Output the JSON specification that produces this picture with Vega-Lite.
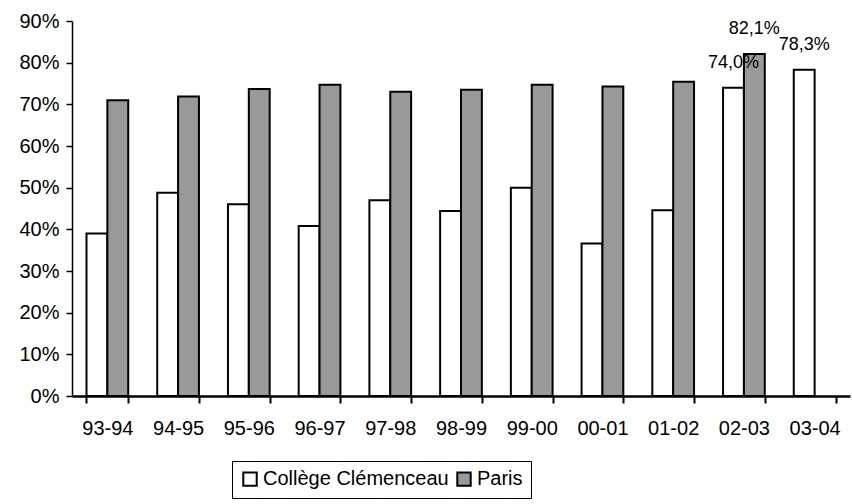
{
  "$schema": "https://vega.github.io/schema/vega-lite/v6.json",
  "autosize": "none",
  "width": 778,
  "height": 375,
  "padding": {"left": 72, "top": 21, "right": 2, "bottom": 108},
  "background": "white",
  "config": {
    "view": {"stroke": null},
    "font": "Liberation Sans",
    "axis": {"labelFont": "Liberation Sans", "labelColor": "black", "grid": false}
  },
  "data": {
    "values": [
      {"annee": "93-94", "serie": "Collège Clémenceau", "taux": 0.390},
      {"annee": "93-94", "serie": "Paris", "taux": 0.710},
      {"annee": "94-95", "serie": "Collège Clémenceau", "taux": 0.488},
      {"annee": "94-95", "serie": "Paris", "taux": 0.719},
      {"annee": "95-96", "serie": "Collège Clémenceau", "taux": 0.460},
      {"annee": "95-96", "serie": "Paris", "taux": 0.737},
      {"annee": "96-97", "serie": "Collège Clémenceau", "taux": 0.408},
      {"annee": "96-97", "serie": "Paris", "taux": 0.747},
      {"annee": "97-98", "serie": "Collège Clémenceau", "taux": 0.470},
      {"annee": "97-98", "serie": "Paris", "taux": 0.730},
      {"annee": "98-99", "serie": "Collège Clémenceau", "taux": 0.444},
      {"annee": "98-99", "serie": "Paris", "taux": 0.735},
      {"annee": "99-00", "serie": "Collège Clémenceau", "taux": 0.500},
      {"annee": "99-00", "serie": "Paris", "taux": 0.747},
      {"annee": "00-01", "serie": "Collège Clémenceau", "taux": 0.366},
      {"annee": "00-01", "serie": "Paris", "taux": 0.743},
      {"annee": "01-02", "serie": "Collège Clémenceau", "taux": 0.446},
      {"annee": "01-02", "serie": "Paris", "taux": 0.754},
      {"annee": "02-03", "serie": "Collège Clémenceau", "taux": 0.740, "etiquette": "74,0%"},
      {"annee": "02-03", "serie": "Paris", "taux": 0.821, "etiquette": "82,1%"},
      {"annee": "03-04", "serie": "Collège Clémenceau", "taux": 0.783, "etiquette": "78,3%"}
    ]
  },
  "encoding": {
    "x": {
      "field": "annee",
      "type": "nominal",
      "sort": null,
      "title": null,
      "scale": {"paddingInner": 0.41, "paddingOuter": 0.205},
      "axis": {
        "tickBand": "extent",
        "labelAngle": 0,
        "labelFontSize": 20,
        "labelPadding": 15,
        "tickSize": 7,
        "tickColor": "black",
        "tickWidth": 2,
        "domainColor": "black",
        "domainWidth": 2.5
      }
    },
    "xOffset": {
      "field": "serie",
      "type": "nominal",
      "scale": {"domain": ["Collège Clémenceau", "Paris"], "paddingInner": 0, "paddingOuter": 0}
    },
    "y": {
      "field": "taux",
      "type": "quantitative",
      "title": null,
      "scale": {"domain": [0, 0.9], "nice": false},
      "axis": {
        "values": [0, 0.1, 0.2, 0.3, 0.4, 0.5, 0.6, 0.7, 0.8, 0.9],
        "format": ".0%",
        "labelFontSize": 20,
        "labelPadding": 7,
        "tickSize": 6,
        "tickColor": "black",
        "tickWidth": 1.5,
        "domainColor": "black",
        "domainWidth": 1.5
      }
    }
  },
  "layer": [
    {
      "mark": {"type": "bar", "stroke": "black", "strokeWidth": 2},
      "encoding": {
        "fill": {
          "field": "serie",
          "type": "nominal",
          "scale": {"domain": ["Collège Clémenceau", "Paris"], "range": ["white", "#999999"]},
          "legend": {
            "title": null,
            "orient": "none",
            "legendX": 160,
            "legendY": 440,
            "direction": "horizontal",
            "columns": 2,
            "strokeColor": "black",
            "fillColor": "white",
            "padding": 8,
            "symbolType": "square",
            "symbolSize": 180,
            "symbolStrokeColor": "black",
            "symbolStrokeWidth": 2,
            "labelFontSize": 20,
            "labelFont": "Liberation Sans",
            "labelColor": "black",
            "labelOffset": 3,
            "columnPadding": 4,
            "rowPadding": 0,
            "labelLimit": 400
          }
        }
      }
    },
    {
      "transform": [{"filter": "isValid(datum.etiquette)"}],
      "mark": {"type": "text", "baseline": "alphabetic", "dy": -20, "fontSize": 18, "font": "Liberation Sans", "color": "black"},
      "encoding": {"text": {"field": "etiquette"}}
    }
  ]
}
